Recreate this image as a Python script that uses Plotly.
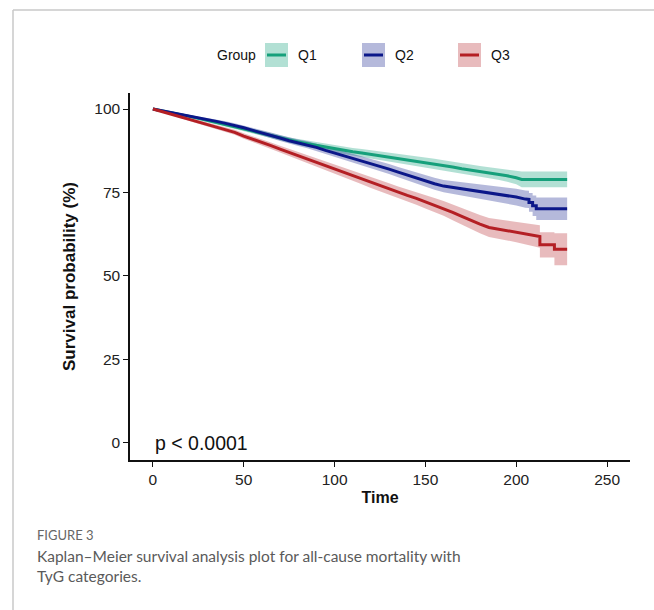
import plotly.graph_objects as go

# ---------------- data ----------------
groups = ["Q1", "Q2", "Q3"]

time_q1 = [0, 5, 10, 15, 20, 25, 30, 35, 40, 45, 50, 55, 60, 65, 70, 75, 80, 85, 90, 95,
           100, 105, 110, 115, 120, 125, 130, 135, 140, 145, 150, 155, 160, 165, 170, 175,
           180, 185, 190, 195, 200, 203, 228]
surv_q1 = [100, 99.5, 98.9, 98.3, 97.8, 97.2, 96.6, 96.0, 95.4, 94.8, 94.1, 93.4, 92.7, 92.0,
           91.3, 90.6, 90.1, 89.6, 89.1, 88.5, 88.0, 87.6, 87.2, 86.8, 86.4, 86.0, 85.6, 85.2,
           84.8, 84.4, 84.0, 83.6, 83.1, 82.6, 82.1, 81.7, 81.3, 80.9, 80.5, 80.0, 79.4, 78.9,
           78.9]
ci_q1 = [0, 0.2, 0.3, 0.35, 0.4, 0.45, 0.5, 0.55, 0.6, 0.65, 0.7, 0.72, 0.75, 0.78, 0.8, 0.85,
         0.9, 0.95, 1.0, 1.05, 1.1, 1.12, 1.15, 1.2, 1.25, 1.3, 1.33, 1.36, 1.4, 1.43, 1.46, 1.5,
         1.52, 1.55, 1.57, 1.6, 1.62, 1.65, 1.7, 1.8, 1.95, 2.35, 2.35]

time_q2 = [0, 5, 10, 15, 20, 25, 30, 35, 40, 45, 50, 55, 60, 65, 70, 75, 80, 85, 90, 95,
           100, 105, 110, 115, 120, 125, 130, 135, 140, 145, 150, 155, 160, 165, 170, 175,
           180, 185, 190, 195, 200, 205, 207, 207, 209, 209, 211, 211, 228]
surv_q2 = [100, 99.5, 99.0, 98.4, 97.9, 97.4, 96.9, 96.3, 95.7, 95.1, 94.4, 93.6, 92.9, 92.1,
           91.3, 90.5, 89.9, 89.3, 88.5, 87.6, 86.8, 86.0, 85.3, 84.6, 83.8, 82.9, 82.0, 81.1,
           80.2, 79.3, 78.4, 77.6, 76.9, 76.5, 76.1, 75.7, 75.3, 74.9, 74.5, 74.1, 73.6, 73.0,
           72.9, 72.0, 72.0, 71.0, 71.0, 70.1, 70.1]
ci_q2 = [0, 0.2, 0.3, 0.35, 0.4, 0.45, 0.5, 0.55, 0.6, 0.65, 0.7, 0.75, 0.8, 0.85, 0.9, 0.95,
         1.0, 1.05, 1.1, 1.15, 1.2, 1.25, 1.3, 1.35, 1.4, 1.45, 1.5, 1.55, 1.6, 1.65, 1.7, 1.78,
         1.85, 1.92, 2.0, 2.07, 2.15, 2.25, 2.3, 2.4, 2.5, 2.6, 2.6, 2.8, 2.8, 3.05, 3.05, 3.35,
         3.35]

time_q3 = [0, 5, 10, 15, 20, 25, 30, 35, 40, 45, 50, 55, 60, 65, 70, 75, 80, 85, 90, 95,
           100, 105, 110, 115, 120, 125, 130, 135, 140, 145, 150, 155, 160, 165, 170, 175,
           180, 185, 190, 195, 200, 205, 210, 213, 213, 221, 221, 228]
surv_q3 = [100, 99.3, 98.5, 97.7, 96.9, 96.1, 95.3, 94.5, 93.8, 93.0, 91.9, 91.0, 90.0, 89.0,
           88.0, 87.0, 86.0, 84.9, 84.0, 83.0, 82.1, 81.0, 80.0, 79.0, 77.9, 77.0, 76.0, 75.0,
           74.1, 73.2, 72.2, 71.2, 70.2, 69.0, 67.8, 66.6, 65.5, 64.5, 64.0, 63.6, 63.2, 62.6,
           62.1, 61.8, 59.3, 59.3, 58.0, 58.0]
ci_q3 = [0, 0.25, 0.35, 0.45, 0.5, 0.55, 0.6, 0.65, 0.7, 0.75, 0.8, 0.85, 0.9, 0.95, 1.0, 1.05,
         1.1, 1.15, 1.2, 1.27, 1.33, 1.4, 1.47, 1.53, 1.6, 1.67, 1.73, 1.8, 1.87, 1.93, 2.0, 2.1,
         2.2, 2.35, 2.5, 2.6, 2.7, 2.85, 2.95, 3.0, 3.1, 3.2, 3.3, 3.35, 3.8, 3.8, 4.8, 4.8]

x_ticks = [0, 50, 100, 150, 200, 250]
y_ticks = [0, 25, 50, 75, 100]
p_value_text = "p < 0.0001"

# ---------------- styling ----------------
line_colors = {"Q1": "#16A07B", "Q2": "#0B1789", "Q3": "#B41F24"}
band_colors = {"Q1": "rgba(22,160,123,0.33)", "Q2": "rgba(11,23,137,0.30)",
               "Q3": "rgba(180,31,36,0.30)"}
FONT = "Liberation Sans, Arial, sans-serif"

series = {
    "Q1": (time_q1, surv_q1, ci_q1),
    "Q2": (time_q2, surv_q2, ci_q2),
    "Q3": (time_q3, surv_q3, ci_q3),
}

fig = go.Figure()

# confidence bands
for g in groups:
    t, s, c = series[g]
    lower = [v - h for v, h in zip(s, c)]
    upper = [v + h for v, h in zip(s, c)]
    fig.add_trace(go.Scatter(x=t, y=lower, mode="lines", line=dict(width=0),
                             showlegend=False, hoverinfo="skip"))
    fig.add_trace(go.Scatter(x=t, y=upper, mode="lines", line=dict(width=0),
                             fill="tonexty", fillcolor=band_colors[g],
                             showlegend=False, hoverinfo="skip"))

# survival curves
for g in groups:
    t, s, c = series[g]
    fig.add_trace(go.Scatter(x=t, y=s, mode="lines", name=g,
                             line=dict(color=line_colors[g], width=3),
                             showlegend=False))

# ---------------- layout geometry (pixels) ----------------
W, H = 654, 610
L, R, T, B = 130, 630, 93, 460


def px2x(px):
    return (px - L) / (R - L)


def px2y(py):
    return (B - py) / (B - T)


shapes = []
annotations = []

# page frame lines (light gray)
shapes.append(dict(type="line", xref="paper", yref="paper",
                   x0=px2x(13), x1=px2x(W + 5), y0=px2y(10), y1=px2y(10),
                   line=dict(color="#C8C8C8", width=1.5)))
shapes.append(dict(type="line", xref="paper", yref="paper",
                   x0=px2x(13), x1=px2x(13), y0=px2y(10), y1=px2y(H + 5),
                   line=dict(color="#C8C8C8", width=1.5)))

# manual legend
annotations.append(dict(text="Group", xref="paper", yref="paper", x=px2x(215), y=px2y(55),
                        xanchor="left", yanchor="middle", showarrow=False,
                        font=dict(family=FONT, size=14, color="#111")))
legend_x = {"Q1": 265, "Q2": 362, "Q3": 458}
for g in groups:
    x0 = legend_x[g]
    shapes.append(dict(type="rect", xref="paper", yref="paper",
                       x0=px2x(x0), x1=px2x(x0 + 23), y0=px2y(67), y1=px2y(43),
                       fillcolor=band_colors[g], line=dict(width=0)))
    shapes.append(dict(type="line", xref="paper", yref="paper",
                       x0=px2x(x0 + 2), x1=px2x(x0 + 21), y0=px2y(55), y1=px2y(55),
                       line=dict(color=line_colors[g], width=3)))
    annotations.append(dict(text=g, xref="paper", yref="paper", x=px2x(x0 + 31), y=px2y(55),
                            xanchor="left", yanchor="middle", showarrow=False,
                            font=dict(family=FONT, size=14, color="#111")))

# p-value
annotations.append(dict(text=p_value_text, x=0, y=0, xref="x", yref="y",
                        xanchor="left", yanchor="middle", showarrow=False,
                        font=dict(family=FONT, size=19.5, color="#111")))

# caption
annotations.append(dict(text="FIGURE 3", xref="paper", yref="paper", x=px2x(35), y=px2y(535),
                        xanchor="left", yanchor="middle", showarrow=False,
                        font=dict(family="Lato, Open Sans, sans-serif", size=13, color="#666")))
annotations.append(dict(text="Kaplan\u2013Meier survival analysis plot for all-cause mortality with<br>TyG categories.",
                        xref="paper", yref="paper", x=px2x(35), y=px2y(566),
                        xanchor="left", yanchor="middle", align="left", showarrow=False,
                        font=dict(family="Lato, Open Sans, sans-serif", size=15.5, color="#5A5A5A")))

fig.update_layout(
    width=W, height=H,
    margin=dict(l=L, r=W - R, t=T, b=H - B, pad=0),
    paper_bgcolor="white", plot_bgcolor="white",
    showlegend=False,
    shapes=shapes,
    annotations=annotations,
    xaxis=dict(range=[-12.6, 262.6], tickvals=x_ticks, ticktext=[str(v) for v in x_ticks],
               showgrid=False, zeroline=False, showline=True, linecolor="#111", linewidth=1.5,
               ticks="outside", ticklen=5, tickwidth=1.2, tickcolor="#111",
               tickfont=dict(family=FONT, size=15.5, color="#222"),
               title=dict(text="<b>Time</b>", font=dict(family=FONT, size=16, color="#111"),
                          standoff=4)),
    yaxis=dict(range=[-5.2, 104.8], tickvals=y_ticks, ticktext=[str(v) for v in y_ticks],
               showgrid=False, zeroline=False, showline=True, linecolor="#111", linewidth=1.5,
               ticks="outside", ticklen=5, tickwidth=1.2, tickcolor="#111",
               tickfont=dict(family=FONT, size=15.5, color="#222"),
               title=dict(text="<b>Survival probability (%)</b>",
                          font=dict(family=FONT, size=17, color="#111"), standoff=14)),
)

fig.write_html("out.html", config={"displayModeBar": False},
               post_script="document.body.style.margin='0';")
